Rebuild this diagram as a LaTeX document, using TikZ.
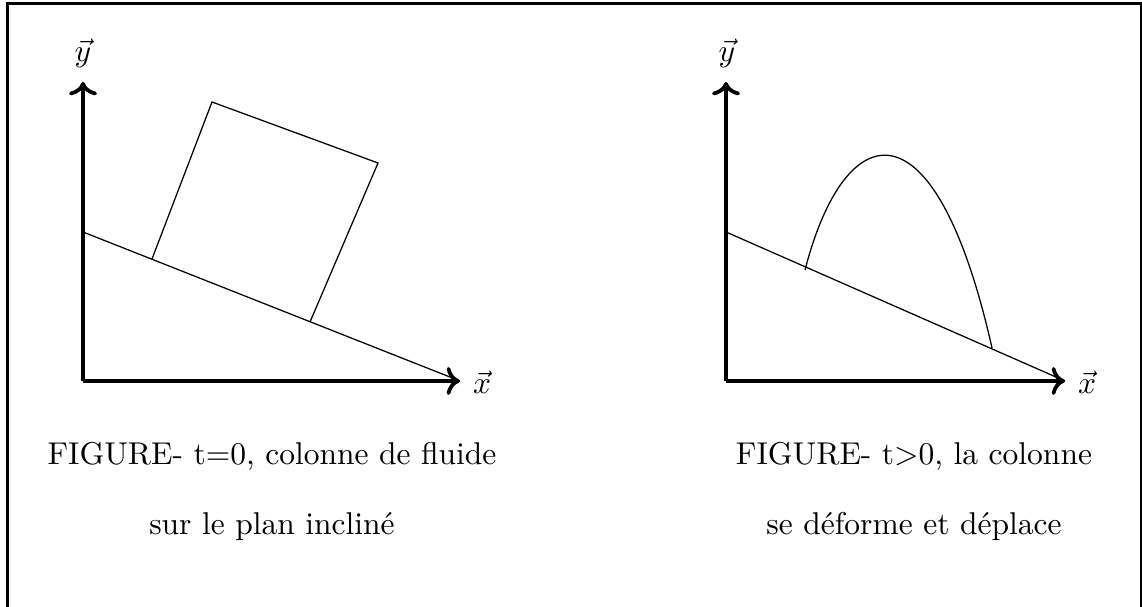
\documentclass[tikz,border=0pt]{standalone}
\usepackage{tikz}
\usetikzlibrary{arrows.meta}

\tikzset{
  axis/.style={->, very thick},
  caption/.style={anchor=base}
}

\begin{document}
\begin{tikzpicture}[x=0.01116cm, y=-0.01116cm]

  \useasboundingbox (0,0) rectangle (1142,607);

  % Outer frame.
  \draw[line width=1.1pt] (7.5,3.5) rectangle (1141.5,609);

  % Left panel: axes.
  \coordinate (o1) at (83,381);
  \coordinate (ytip1) at (83,82);
  \coordinate (xtip1) at (460,381);
  \draw[axis] (o1) -- (ytip1);
  \draw[axis] (o1) -- (xtip1);
  \node (ylab1) at (83,53) {$\vec{y}$};
  \node (xlab1) at (482,382) {$\vec{x}$};

  % Left panel: inclined plane and the fluid column.
  \coordinate (top1) at (83,232);
  \draw (top1) -- (xtip1);
  \coordinate (a1) at (152,259);
  \coordinate (b1) at (212,102);
  \coordinate (c1) at (378,163);
  \coordinate (d1) at (310,322);
  \draw (a1) -- (b1) -- (c1) -- (d1);

  % Right panel: axes.
  \coordinate (o2) at (726,381);
  \coordinate (ytip2) at (726,82);
  \coordinate (xtip2) at (1065,381);
  \draw[axis] (o2) -- (ytip2);
  \draw[axis] (o2) -- (xtip2);
  \node (ylab2) at (727,53) {$\vec{y}$};
  \node (xlab2) at (1087,382) {$\vec{x}$};

  % Right panel: inclined plane and the deformed column.
  \coordinate (top2) at (726,232);
  \draw (top2) -- (xtip2);
  \coordinate (a2) at (805,270);
  \coordinate (d2) at (992,348);
  \draw (a2) .. controls (845,115) and (935,95) .. (d2);

  % Captions.
  \node[caption] (cap1) at (272,465) {FIGURE- t=0, colonne de fluide};
  \node[caption] (cap2) at (272,534) {sur le plan inclin\'e};
  \node[caption] (cap3) at (914,465) {FIGURE- t$>$0, la colonne};
  \node[caption] (cap4) at (914,534) {se d\'eforme et d\'eplace};

\end{tikzpicture}
\end{document}
